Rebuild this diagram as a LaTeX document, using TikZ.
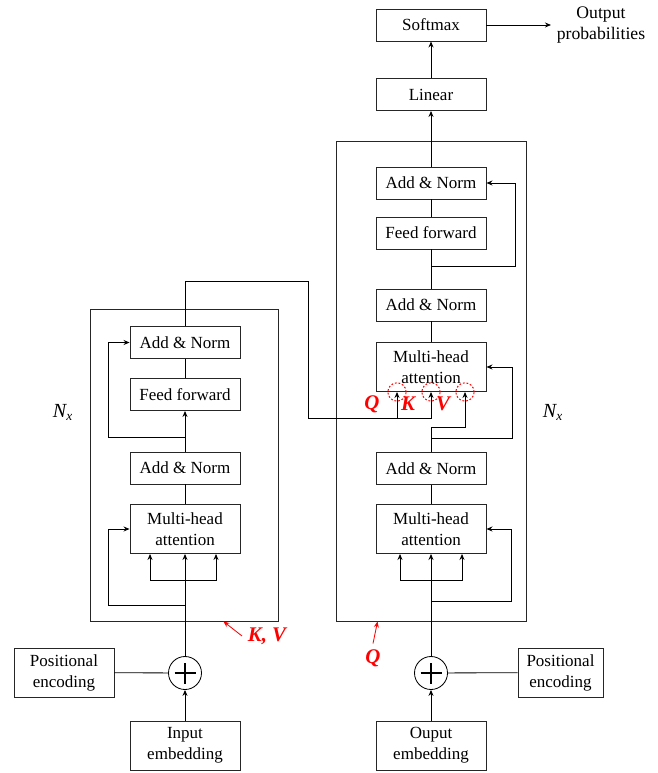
\documentclass[tikz,border=0pt]{standalone}
\usepackage{fontspec}
\setmainfont{Liberation Serif}
\usetikzlibrary{arrows.meta,positioning,calc}

\begin{document}
\begin{tikzpicture}[x=0.6pt,y=-0.6pt,>={Stealth[length=3.6pt,width=3pt]},
box/.style={draw=black!85,line width=0.55pt,align=center,minimum width=66pt,minimum height=19.2pt,inner sep=1pt,font=\fontsize{10.2}{12.6}\selectfont},
tallbox/.style={box,minimum height=29.4pt},
frame/.style={draw=black!85,line width=0.55pt,inner sep=0pt},
adder/.style={draw,circle,line width=0.5pt,minimum size=19.8pt,inner sep=0pt,path picture={\draw[line width=0.8pt] ([xshift=-6.3pt]path picture bounding box.center) -- ([xshift=6.3pt]path picture bounding box.center) ([yshift=-6.3pt]path picture bounding box.center) -- ([yshift=6.3pt]path picture bounding box.center);}},
tap/.style={circle,draw=red,dash pattern=on 1.1pt off 1.1pt,line width=0.6pt,minimum size=11pt,inner sep=0pt},
redlab/.style={text=red,font=\fontsize{12.5}{14}\selectfont\bfseries\itshape},
nlab/.style={font=\fontsize{12}{14}\selectfont},
wire/.style={line width=0.5pt}]
\useasboundingbox (0,0) rectangle (657,773);
\node[tallbox] (emha) at (185,529) {Multi-head\\attention};
\node[box] (ean1) at (185,468) {Add \& Norm};
\node[box] (eff) at (185,394.5) {Feed forward};
\node[box] (ean2) at (185,342.5) {Add \& Norm};
\node[adder] (eplus) at (185,673) {};
\node[tallbox] (iemb) at (185,745.5) {Input\\embedding};
\node[tallbox,minimum width=60pt] (epos) at (64,672.5) {Positional\\encoding};
\node[frame,minimum width=112.8pt,minimum height=187.2pt] (enc) at (184,465) {};
\node[nlab] (enx) at (63,412) {\textit{N\textsubscript{x}}};
\node[tallbox] (dmha) at (431,529) {Multi-head\\attention};
\node[box] (dan1) at (431,468.5) {Add \& Norm};
\node[tallbox] (cross) at (431,367) {Multi-head\\attention};
\node[box] (dan2) at (431,305) {Add \& Norm};
\node[box] (dff) at (431,233) {Feed forward};
\node[box] (dan3) at (431,183) {Add \& Norm};
\node[box] (lin) at (431,94.5) {Linear};
\node[box] (soft) at (431,25) {Softmax};
\node[adder] (dplus) at (431,673) {};
\node[tallbox] (oemb) at (431,745.5) {Ouput\\embedding};
\node[tallbox,minimum width=51pt] (dpos) at (560.5,672.5) {Positional\\encoding};
\node[frame,minimum width=114pt,minimum height=288pt] (dec) at (431,381) {};
\node[nlab] (dnx) at (553,412) {\textit{N\textsubscript{x}}};
\node[align=center,font=\fontsize{10.6}{13}\selectfont] (prob) at (601,25) {Output\\probabilities};
\node[tap] (qc) at ($(cross.south)+(-34,0)$) {};
\node[tap] (kc) at (cross.south) {};
\node[tap] (vc) at ($(cross.south)+(34,0)$) {};
\node[redlab] (ql) at (372,404) {Q};
\node[redlab] (kl) at (408,404) {K};
\node[redlab] (vl) at (443,404) {V};
\node[redlab] (kv) at (267,636) {K, V};
\node[redlab] (qd) at (373,658) {Q};
\coordinate (ebr) at (185,580);
\coordinate (eres1) at (185,605);
\coordinate (eres2) at (185,437);
\coordinate (eout) at (308,281);
\coordinate (dbr) at (431,580);
\coordinate (dres1) at (431,601);
\coordinate (dres2) at (431,438);
\coordinate (vbase) at (431,427);
\coordinate (qbase) at (397,418);
\coordinate (dres3) at (431,266);
\draw[wire,->] (iemb) -- (eplus);
\draw[wire] (epos) -- (eplus);
\draw[wire,->] (eplus) -- (emha);
\draw[wire,->] (ebr) -| ($(emha.south)+(-35,0)$);
\draw[wire,->] (ebr) -| ($(emha.south)+(31,0)$);
\draw[wire,->] (eres1) -| ($(emha.west)+(-21,0)$) -- (emha.west);
\draw[wire] (emha) -- (ean1);
\draw[wire,->] (ean1) -- (eff);
\draw[wire,->] (eres2) -| ($(ean2.west)+(-21,0)$) -- (ean2.west);
\draw[wire] (eff) -- (ean2);
\draw[wire,->] (oemb) -- (dplus);
\draw[wire] (dpos) -- (dplus);
\draw[wire,->] (dplus) -- (dmha);
\draw[wire,->] (dbr) -| ($(dmha.south)+(-31,0)$);
\draw[wire,->] (dbr) -| ($(dmha.south)+(31,0)$);
\draw[wire,->] (dres1) -| ($(dmha.east)+(25,0)$) -- (dmha.east);
\draw[wire] (dmha) -- (dan1);
\draw[wire] (dan1) -- (vbase);
\draw[wire,->] (vbase) -| (vc.center);
\draw[wire,->] (dres2) -| ($(cross.east)+(26,0)$) -- (cross.east);
\draw[wire] (ean2) |- (eout) |- (qbase);
\draw[wire,->] (qbase) -- (qc.center);
\draw[wire,->] (qbase) -| (kc.center);
\draw[wire] (cross) -- (dan2);
\draw[wire] (dan2) -- (dff);
\draw[wire,->] (dres3) -| ($(dan3.east)+(29,0)$) -- (dan3.east);
\draw[wire] (dff) -- (dan3);
\draw[wire,->] (dan3) -- (lin);
\draw[wire,->] (lin) -- (soft);
\draw[wire,->] (soft) -- (prob);
\draw[wire,red,->] (kv.west) -- ($(enc.south east)+(-55,0)$);
\draw[wire,red,->] (qd.north) -- ($(dec.south west)+(42,0)$);
\end{tikzpicture}
\end{document}
